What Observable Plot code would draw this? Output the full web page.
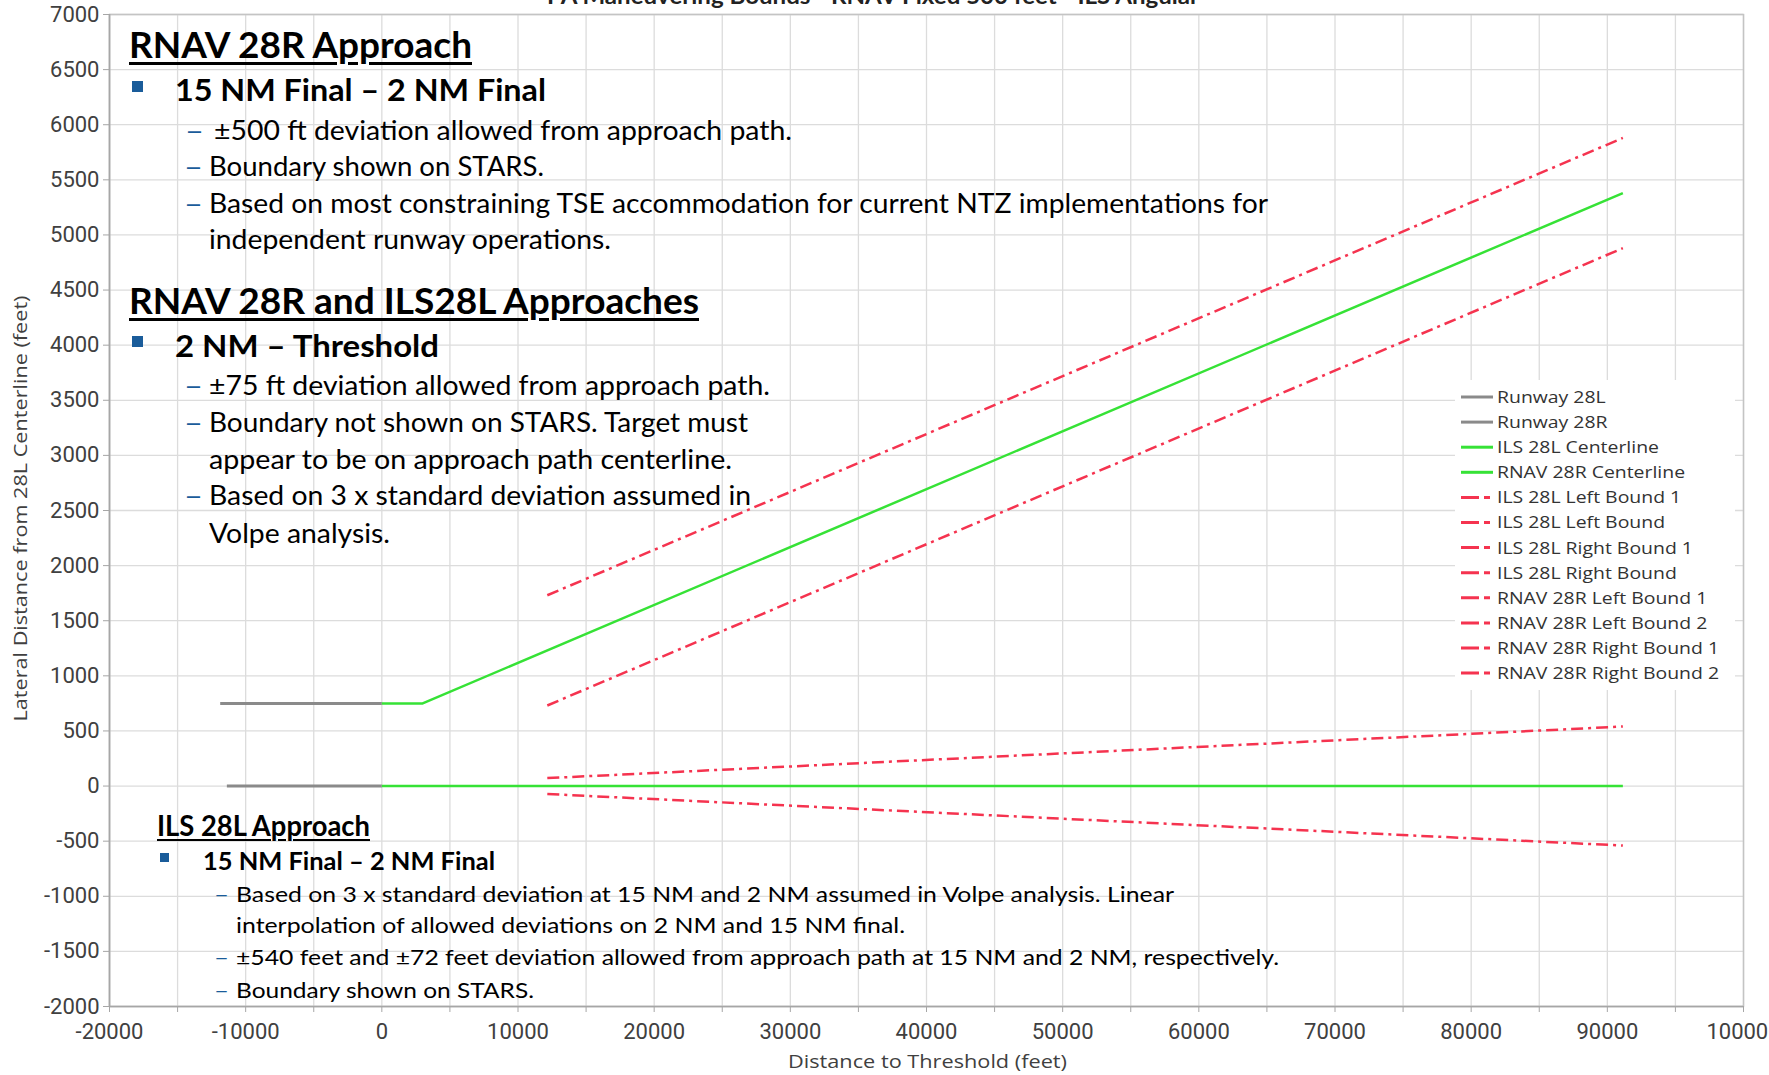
<!DOCTYPE html>
<html><head><meta charset="utf-8">
<script src="https://cdn.jsdelivr.net/npm/d3@7"></script>
<script src="https://cdn.jsdelivr.net/npm/@observablehq/plot@0.6"></script>
<style>
html,body{margin:0;padding:0;background:#fff;overflow:hidden}
#wrap{position:relative;width:1769px;height:1075px;overflow:hidden}
#wrap svg{position:absolute;left:0;top:0}
.ov{position:absolute;white-space:nowrap;transform-origin:0 50%;line-height:1;color:#000;font-family:Lato,'Open Sans',sans-serif}
.lg{position:absolute;white-space:nowrap;transform-origin:0 50%;line-height:1;color:#333;font-family:'Open Sans',sans-serif}
</style></head><body><div id="wrap"></div>
<script>
// ---------------- data ----------------
const chartTitle = "PA Maneuvering Bounds - RNAV Fixed 500 feet - ILS Angular";
const xLabel = "Distance to Threshold (feet)";
const yLabel = "Lateral Distance from 28L Centerline (feet)";

const seriesNames = ["Runway 28L","Runway 28R","ILS 28L Centerline","RNAV 28R Centerline",
  "ILS 28L Left Bound 1","ILS 28L Left Bound","ILS 28L Right Bound 1","ILS 28L Right Bound",
  "RNAV 28R Left Bound 1","RNAV 28R Left Bound 2","RNAV 28R Right Bound 1","RNAV 28R Right Bound 2"];
const seriesKind = ["runway","runway","center","center","bound","bound","bound","bound","bound","bound","bound","bound"];

const runway28L_x = [-11381, 0];
const runway28L_y = [0, 0];
const runway28R_x = [-11870, 0];
const runway28R_y = [750, 750];
const ils28LCenter_x = [0, 91140];
const ils28LCenter_y = [0, 0];
const rnav28RCenter_x = [0, 3000, 91140];
const rnav28RCenter_y = [750, 750, 5380];
const ils28LLeftBound1_x = [];
const ils28LLeftBound1_y = [];
const ils28LLeftBound_x = [12152, 91140];
const ils28LLeftBound_y = [-72, -540];
const ils28LRightBound1_x = [];
const ils28LRightBound1_y = [];
const ils28LRightBound_x = [12152, 91140];
const ils28LRightBound_y = [72, 540];
const rnav28RLeftBound1_x = [12152, 91140];
const rnav28RLeftBound1_y = [731, 4880];
const rnav28RLeftBound2_x = [];
const rnav28RLeftBound2_y = [];
const rnav28RRightBound1_x = [12152, 91140];
const rnav28RRightBound1_y = [1731, 5880];
const rnav28RRightBound2_x = [];
const rnav28RRightBound2_y = [];

const xTicks = [-20000,-10000,0,10000,20000,30000,40000,50000,60000,70000,80000,90000,100000];
const xMinorTicks = [-15000,-5000,5000,15000,25000,35000,45000,55000,65000,75000,85000,95000];
const yTicks = [-2000,-1500,-1000,-500,0,500,1000,1500,2000,2500,3000,3500,4000,4500,5000,5500,6000,6500,7000];

// ---------------- build table ----------------
const seriesX = [runway28L_x, runway28R_x, ils28LCenter_x, rnav28RCenter_x, ils28LLeftBound1_x, ils28LLeftBound_x,
  ils28LRightBound1_x, ils28LRightBound_x, rnav28RLeftBound1_x, rnav28RLeftBound2_x, rnav28RRightBound1_x, rnav28RRightBound2_x];
const seriesY = [runway28L_y, runway28R_y, ils28LCenter_y, rnav28RCenter_y, ils28LLeftBound1_y, ils28LLeftBound_y,
  ils28LRightBound1_y, ils28LRightBound_y, rnav28RLeftBound1_y, rnav28RLeftBound2_y, rnav28RRightBound1_y, rnav28RRightBound2_y];
const rows = [];
seriesNames.forEach((name, i) => seriesX[i].forEach((x, j) => rows.push({series: name, kind: seriesKind[i], x, y: seriesY[i][j]})));

// ---------------- styles ----------------
const GRAY = "#8a8a8a", GREEN = "#36e236", RED = "#f5334f", BLUE = "#1a5c9a";
const kindStyle = {
  runway: {stroke: GRAY, strokeWidth: 3, dash: null},
  center: {stroke: GREEN, strokeWidth: 2.5, dash: null},
  bound: {stroke: RED, strokeWidth: 2.5, dash: "12,5,3,5"}
};

const plot = Plot.plot({
  width: 1769, height: 1075,
  marginLeft: 109, marginRight: 26, marginTop: 14, marginBottom: 69,
  x: {domain: [-20000, 100000]},
  y: {domain: [-2000, 7000]},
  style: {fontFamily: "Roboto, sans-serif", fontSize: "22px", color: "#404040", background: "transparent"},
  marks: [
    Plot.gridX(xTicks.concat(xMinorTicks), {stroke: "#dcdcdc", strokeOpacity: 1, strokeWidth: 1.3}),
    Plot.gridY(yTicks, {stroke: "#dcdcdc", strokeOpacity: 1, strokeWidth: 1.3}),
    Plot.frame({stroke: "#c4c4c4", strokeWidth: 1.5}),
    Plot.ruleX([-20000], {stroke: "#a6a6a6", strokeWidth: 1.6}),
    Plot.ruleY([-2000], {stroke: "#a6a6a6", strokeWidth: 1.6}),
    Plot.axisX(xTicks, {tickSize: 6, tickPadding: 11, tickFormat: d => String(d), label: null, stroke: "#a6a6a6"}),
    Plot.axisX(xMinorTicks, {tickSize: 6, tickFormat: () => "", label: null, stroke: "#a6a6a6"}),
    Plot.axisY(yTicks, {tickSize: 6, tickPadding: 4, tickFormat: d => String(d), label: null, stroke: "#a6a6a6"}),
    ...Object.keys(kindStyle).map(k => Plot.line(rows.filter(d => d.kind === k), {
      x: "x", y: "y", z: "series", stroke: kindStyle[k].stroke, strokeWidth: kindStyle[k].strokeWidth,
      strokeDasharray: kindStyle[k].dash, strokeLinecap: "butt"
    }))
  ]
});
const wrap = document.getElementById("wrap");
wrap.appendChild(plot);

// ---------------- annotations (layout) ----------------
const annotations = [
  {t:"RNAV 28R Approach", x:129, y:45, w:343, size:36, bold:1, ul:1},
  {t:"15 NM Final \u2013 2 NM Final", x:175, y:90, w:371, size:31, bold:1},
  {t:"\u2013", x:185, y:131, w:19, size:26, blue:1},
  {t:"\u00b1500 ft deviation allowed from approach path.", x:214, y:131, w:578, size:26},
  {t:"\u2013", x:184, y:167, w:19, size:26, blue:1},
  {t:"Boundary shown on STARS.", x:209, y:167, w:335, size:26},
  {t:"\u2013", x:184, y:204, w:19, size:26, blue:1},
  {t:"Based on most constraining TSE accommodation for current NTZ implementations for", x:209, y:204, w:1059, size:26},
  {t:"independent runway operations.", x:209, y:240, w:402, size:26},

  {t:"RNAV 28R and ILS28L Approaches", x:129, y:301, w:570, size:36, bold:1, ul:1},
  {t:"2 NM \u2013 Threshold", x:175, y:346, w:264, size:31, bold:1},
  {t:"\u2013", x:184, y:386, w:19, size:26, blue:1},
  {t:"\u00b175 ft deviation allowed from approach path.", x:209, y:386, w:561, size:26},
  {t:"\u2013", x:184, y:423, w:19, size:26, blue:1},
  {t:"Boundary not shown on STARS. Target must", x:209, y:423, w:539, size:26},
  {t:"appear to be on approach path centerline.", x:209, y:460, w:523, size:26},
  {t:"\u2013", x:184, y:496, w:19, size:26, blue:1},
  {t:"Based on 3 x standard deviation assumed in", x:209, y:496, w:542, size:26},
  {t:"Volpe analysis.", x:209, y:534, w:181, size:26},

  {t:"ILS 28L Approach", x:157, y:826, w:213, size:28, bold:1, ul:1},
  {t:"15 NM Final \u2013 2 NM Final", x:203, y:861, w:292, size:25, bold:1},
  {t:"\u2013", x:214, y:895, w:15, size:22, blue:1},
  {t:"Based on 3 x standard deviation at 15 NM and 2 NM assumed in Volpe analysis. Linear", x:236, y:895, w:938, size:22},
  {t:"interpolation of allowed deviations on 2 NM and 15 NM final.", x:236, y:926, w:669, size:22},
  {t:"\u2013", x:214, y:958, w:15, size:22, blue:1},
  {t:"\u00b1540 feet and \u00b172 feet deviation allowed from approach path at 15 NM and 2 NM, respectively.", x:236, y:958, w:1043, size:22},
  {t:"\u2013", x:214, y:991, w:15, size:22, blue:1},
  {t:"Boundary shown on STARS.", x:236, y:991, w:298, size:22}
];
const bullets = [{x:132, y:81, s:11}, {x:132, y:336, s:11}, {x:160, y:853, s:9}];

function addText(o, cls) {
  const el = document.createElement("div");
  el.className = cls || "ov";
  el.textContent = o.t;
  el.style.left = o.x + "px";
  el.style.fontSize = o.size + "px";
  el.style.top = (o.y - 0.53 * o.size) + "px";
  el.style.fontWeight = o.bold ? "700" : "400";
  if (o.ul) { el.style.textDecoration = "underline"; el.style.textDecorationThickness = Math.max(2, o.size * 0.07) + "px"; el.style.textUnderlineOffset = (o.size * 0.1) + "px"; }
  if (o.blue) el.style.color = BLUE;
  if (o.color) el.style.color = o.color;
  wrap.appendChild(el);
  if (o.w) { const w0 = el.getBoundingClientRect().width; el.style.transform = `scaleX(${o.w / w0})`; }
  return el;
}
annotations.forEach(o => addText(o));
bullets.forEach(b => {
  const el = document.createElement("div");
  Object.assign(el.style, {position: "absolute", left: b.x + "px", top: b.y + "px", width: b.s + "px", height: b.s + "px", background: BLUE});
  wrap.appendChild(el);
});

// title (partly cut off at the top, as in the reference)
addText({t: chartTitle, x: 547, y: -3, w: 652, size: 22, bold: 1, color: "#222"});

// axis labels
addText({t: xLabel, x: 788, y: 1062, w: 279, size: 19, color: "#404040"}, "lg");
(function(){
  const el = document.createElement("div");
  el.className = "lg";
  el.textContent = yLabel;
  el.style.fontSize = "19px";
  el.style.color = "#404040";
  wrap.appendChild(el);
  const w0 = el.getBoundingClientRect().width, h0 = el.getBoundingClientRect().height;
  el.style.left = (20 - w0 / 2) + "px";
  el.style.top = (508 - h0 / 2) + "px";
  el.style.transformOrigin = "50% 50%";
  el.style.transform = `rotate(-90deg) scaleX(${426 / w0})`;
})();

// legend
const legendBox = document.createElement("div");
Object.assign(legendBox.style, {position: "absolute", left: "1455px", top: "380px", width: "280px", height: "310px", background: "#fff"});
wrap.appendChild(legendBox);
const legendSvgNS = "http://www.w3.org/2000/svg";
const lsvg = document.createElementNS(legendSvgNS, "svg");
lsvg.setAttribute("width", 40); lsvg.setAttribute("height", 310);
Object.assign(lsvg.style, {position: "absolute", left: "1455px", top: "380px"});
wrap.appendChild(lsvg);
const legendEls = [];
let legScale = 1;
seriesNames.forEach((name, i) => {
  const cy = 17 + i * 25.1;
  const st = kindStyle[seriesKind[i]];
  const ln = document.createElementNS(legendSvgNS, "line");
  ln.setAttribute("x1", 6); ln.setAttribute("x2", 38); ln.setAttribute("y1", cy); ln.setAttribute("y2", cy);
  ln.setAttribute("stroke", st.stroke); ln.setAttribute("stroke-width", 3);
  if (st.dash) ln.setAttribute("stroke-dasharray", "18,5,6,10");
  lsvg.appendChild(ln);
  const el = addText({t: name, x: 1497, y: 380 + cy, size: 17}, "lg");
  legendEls.push(el);
  if (name === "RNAV 28R Right Bound 2") legScale = 222 / el.getBoundingClientRect().width;
});
legendEls.forEach(el => el.style.transform = `scaleX(${legScale})`);
</script></body></html>
